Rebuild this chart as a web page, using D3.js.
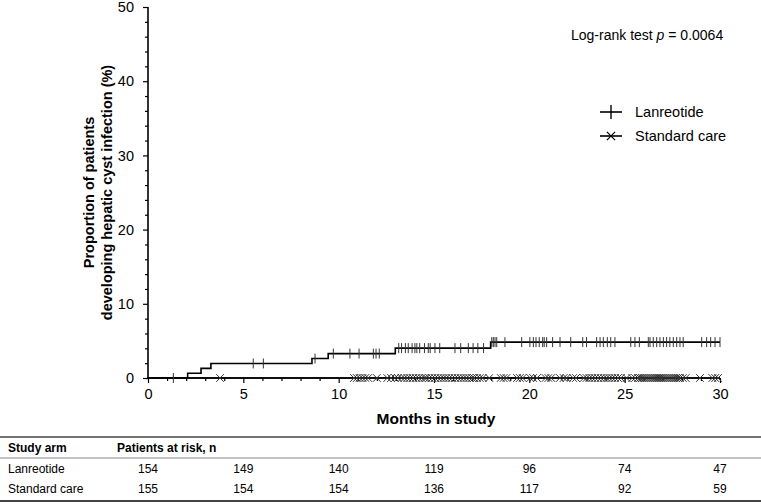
<!DOCTYPE html>
<html><head><meta charset="utf-8">
<script src="https://cdn.jsdelivr.net/npm/d3@7"></script>
<style>
body{margin:0;background:#fff;}
svg{display:block;font-family:"Liberation Sans",Arial,sans-serif;}
</style></head>
<body><svg id="chart" width="761" height="504"></svg>
<script>
// ---- data ----
const lanSteps = [[0,0],[2.08,0.65],[2.78,1.30],[3.30,1.96],[8.60,2.62],[9.45,3.29],[12.97,4.03],[17.97,4.84],[30.0,4.84]];
const lanCensor = [1.33,5.52,6.05,8.76,9.72,10.59,11.07,11.82,11.96,12.13,
  13.15,13.3,13.5,13.65,13.85,14.0,14.1,14.25,14.5,14.7,14.8,15.05,15.3,16.1,16.4,16.8,17.05,17.3,17.6,
  18.03,18.11,18.2,18.29,18.72,19.6,20.03,20.21,20.35,20.52,20.7,20.78,20.91,21.22,21.61,22.17,22.8,23.0,
  23.53,23.71,23.88,24.09,24.27,24.49,25.32,25.54,25.77,26.24,26.33,26.5,26.68,26.85,27.03,27.2,27.37,27.55,27.73,27.9,28.07,
  29.04,29.3,29.51,29.74,30.0];
const stdSteps = [[0,0],[30.0,0]];
const stdCensor = [3.78,10.8,10.95,11.1,11.25,11.4,11.55,12.0,12.55,12.75,12.95,13.1,13.3,13.45,13.6,13.75,13.9,14.05,14.2,14.35,
  14.5,14.6,14.75,14.9,15.05,15.2,15.35,15.5,15.65,15.8,15.95,16.1,16.25,16.4,16.55,16.7,16.85,17.0,17.1,17.25,17.4,17.55,17.9,
  18.5,18.65,18.8,19.35,19.5,19.65,20.05,20.2,20.4,20.85,21.0,21.15,21.6,21.8,21.95,22.3,22.45,22.85,23.0,23.15,23.3,23.45,23.6,
  23.75,23.9,24.05,24.2,24.35,24.5,24.65,24.8,25.1,25.4,25.55,25.7,25.8,25.9,26.0,26.1,26.2,26.3,26.4,26.5,26.6,26.7,26.8,26.9,
  27.0,27.1,27.2,27.3,27.4,27.5,27.6,27.7,27.8,27.9,28.05,28.2,28.95,29.6,29.75,29.9];
const xTicks = [0,5,10,15,20,25,30];
const yTicks = [0,10,20,30,40,50];
const riskArms = ["Lanreotide","Standard care"];
const riskLan = [154,149,140,119,96,74,47];
const riskStd = [155,154,154,136,117,92,59];
const legendLabels = ["Lanreotide","Standard care"];

// ---- layout ----
const svg = d3.select("#chart");
const x = d3.scaleLinear().domain([0,30]).range([148,720]);
const y = d3.scaleLinear().domain([0,50]).range([378,7]);

function levelAt(steps,t){ let v=0; for(const s of steps){ if(s[0]<=t) v=s[1]; } return v; }

// x axis
const xAxis = d3.axisBottom(x).tickValues(xTicks).tickSize(5).tickPadding(6).tickFormat(d3.format("d"));
const gx = svg.append("g").attr("transform","translate(0,378)").call(xAxis);
gx.select(".domain").remove();
gx.append("line").attr("x1",147).attr("x2",x(30)).attr("y1",0).attr("y2",0).attr("stroke","#000").attr("stroke-width",1.6);
gx.selectAll(".tick line").attr("stroke","#000").attr("stroke-width",1.2);
gx.selectAll(".tick text").attr("font-size",14.5).attr("fill","#000").attr("font-family","Liberation Sans, Arial, sans-serif");
const xMinor = d3.axisBottom(x).tickValues(d3.range(0,31).filter(v=>v%5!==0)).tickSize(3).tickFormat("");
const gxm = svg.append("g").attr("transform","translate(0,378)").call(xMinor);
gxm.select(".domain").remove();
gxm.selectAll(".tick line").attr("stroke","#000").attr("stroke-width",1.2);

// y axis
const yAxis = d3.axisLeft(y).tickValues(yTicks).tickSize(5).tickPadding(9).tickFormat(d3.format("d"));
const gy = svg.append("g").attr("transform","translate(148,0)").call(yAxis);
gy.select(".domain").remove();
gy.append("line").attr("x1",0).attr("x2",0).attr("y1",y(50)).attr("y2",379).attr("stroke","#000").attr("stroke-width",1.6);
gy.selectAll(".tick line").attr("stroke","#000").attr("stroke-width",1.2);
gy.selectAll(".tick text").attr("font-size",14.5).attr("fill","#000").attr("font-family","Liberation Sans, Arial, sans-serif");
const yMinor = d3.axisLeft(y).tickValues(d3.range(0,51,2).filter(v=>v%10!==0)).tickSize(3).tickFormat("");
const gym = svg.append("g").attr("transform","translate(148,0)").call(yMinor);
gym.select(".domain").remove();
gym.selectAll(".tick line").attr("stroke","#000").attr("stroke-width",1.2);

// axis titles
svg.append("text").attr("x",x(15)+2).attr("y",424).attr("text-anchor","middle")
  .attr("font-size",15.5).attr("font-weight","bold").text("Months in study");
const yt = svg.append("text").attr("transform",`translate(0,${y(25)}) rotate(-90)`)
  .attr("text-anchor","middle").attr("font-size",14.5).attr("font-weight","bold");
yt.append("tspan").attr("x",0).attr("y",94).text("Proportion of patients");
yt.append("tspan").attr("x",0).attr("y",112).text("developing hepatic cyst infection (%)");

// curves
const line = d3.line().x(d=>x(d[0])).y(d=>y(d[1])).curve(d3.curveStepAfter);
svg.append("path").datum(stdSteps).attr("d",line).attr("fill","none").attr("stroke","#000").attr("stroke-width",1.6);
svg.append("path").datum(lanSteps).attr("d",line).attr("fill","none").attr("stroke","#000").attr("stroke-width",1.6);

// censor marks
svg.append("g").selectAll("line").data(lanCensor).join("line")
  .attr("x1",d=>x(d)).attr("x2",d=>x(d))
  .attr("y1",d=>y(levelAt(lanSteps,d))-5).attr("y2",d=>y(levelAt(lanSteps,d))+5)
  .attr("stroke","#333").attr("stroke-width",1);
const cross = d3.symbol().type(d3.symbolX).size(40);
svg.append("g").selectAll("path").data(stdCensor).join("path")
  .attr("d",cross).attr("transform",d=>`translate(${x(d)},${y(levelAt(stdSteps,d))})`)
  .attr("fill","none").attr("stroke","#333").attr("stroke-width",1);

// log-rank annotation
const lr = svg.append("text").attr("x",571).attr("y",40).attr("font-size",14);
lr.append("tspan").text("Log-rank test ");
lr.append("tspan").attr("font-style","italic").text("p");
lr.append("tspan").text(" = 0.0064");

// legend
const lg = svg.append("g").selectAll("g").data(legendLabels).join("g")
  .attr("transform",(d,i)=>`translate(600,${112+i*24})`);
lg.append("line").attr("x1",0).attr("x2",22).attr("stroke","#000").attr("stroke-width",1.6);
lg.filter((d,i)=>i===0).append("line").attr("x1",11).attr("x2",11).attr("y1",-7).attr("y2",7).attr("stroke","#000").attr("stroke-width",1.4);
lg.filter((d,i)=>i===1).append("path").attr("d",d3.symbol().type(d3.symbolX).size(45)).attr("transform","translate(11,0)")
  .attr("fill","none").attr("stroke","#000").attr("stroke-width",1.2);
lg.append("text").attr("x",35).attr("y",5).attr("font-size",14.5).text(d=>d);

// at-risk table
const tf = "'Liberation Sans Narrow','Arial Narrow','Liberation Sans',Arial,sans-serif";
svg.append("line").attr("x1",0).attr("x2",761).attr("y1",437).attr("y2",437).attr("stroke","#444").attr("stroke-width",1.5);
svg.append("line").attr("x1",0).attr("x2",761).attr("y1",458).attr("y2",458).attr("stroke","#888").attr("stroke-width",1);
svg.append("line").attr("x1",0).attr("x2",761).attr("y1",501).attr("y2",501).attr("stroke","#444").attr("stroke-width",2);
svg.append("text").attr("x",8).attr("y",452).attr("font-size",12).attr("font-weight","bold").attr("font-family",tf).text("Study arm");
svg.append("text").attr("x",117).attr("y",452).attr("font-size",12).attr("font-weight","bold").attr("font-family",tf).text("Patients at risk, n");
const rows = [riskLan, riskStd];
rows.forEach((r,i)=>{
  const yy = 473 + i*20;
  svg.append("text").attr("x",8).attr("y",yy).attr("font-size",12).attr("font-family",tf).text(riskArms[i]);
  svg.append("g").selectAll("text").data(r).join("text")
    .attr("x",(d,j)=>x(xTicks[j])).attr("y",yy).attr("text-anchor","middle")
    .attr("font-size",12).attr("font-family",tf).text(d=>d);
});
</script></body></html>
